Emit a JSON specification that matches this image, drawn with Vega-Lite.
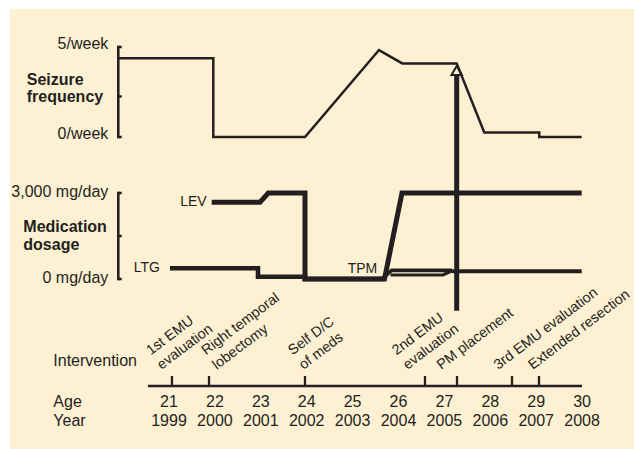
{
  "$schema": "https://vega.github.io/schema/vega-lite/v6.json",
  "width": 624,
  "height": 440,
  "autosize": {"type": "none"},
  "padding": {"left": 10, "top": 9, "right": 0, "bottom": 0},
  "background": "white",
  "config": {
    "view": {"fill": "#FEF0D2", "stroke": null},
    "text": {"font": "Liberation Sans", "fill": "#231F20", "fontSize": 16},
    "rule": {"stroke": "#231F20"},
    "line": {"stroke": "#231F20"}
  },
  "resolve": {"scale": {"y": "independent"}},
  "datasets": {
    "seizure": [
      {"i": 0, "year": 1997.895, "freq": 4.37},
      {"i": 1, "year": 1999.965, "freq": 4.37},
      {"i": 2, "year": 1999.965, "freq": 0},
      {"i": 3, "year": 2001.963, "freq": 0},
      {"i": 4, "year": 2003.575, "freq": 4.83},
      {"i": 5, "year": 2004.083, "freq": 4.09},
      {"i": 6, "year": 2005.268, "freq": 4.09},
      {"i": 7, "year": 2005.869, "freq": 0.25},
      {"i": 8, "year": 2007.067, "freq": 0.25},
      {"i": 9, "year": 2007.067, "freq": 0},
      {"i": 10, "year": 2007.991, "freq": 0}
    ],
    "dose": [
      {"line": "LEV", "i": 0, "year": 1999.93, "dose": 2680},
      {"line": "LEV", "i": 1, "year": 2000.983, "dose": 2680},
      {"line": "LEV", "i": 2, "year": 2001.163, "dose": 3000},
      {"line": "LEV", "i": 3, "year": 2001.963, "dose": 3000},
      {"line": "LEV", "i": 4, "year": 2001.963, "dose": 0},
      {"line": "LEV", "i": 5, "year": 2003.695, "dose": 0},
      {"line": "LEV", "i": 6, "year": 2004.076, "dose": 3000},
      {"line": "LEV", "i": 7, "year": 2007.991, "dose": 3000},
      {"line": "LTG", "i": 0, "year": 1999.022, "dose": 373},
      {"line": "LTG", "i": 1, "year": 2000.939, "dose": 373},
      {"line": "LTG", "i": 2, "year": 2000.939, "dose": 80},
      {"line": "LTG", "i": 3, "year": 2001.963, "dose": 80},
      {"line": "LTG", "i": 4, "year": 2001.963, "dose": 0},
      {"line": "LTG", "i": 5, "year": 2003.67, "dose": 0},
      {"line": "TPM", "i": 0, "year": 2003.634, "dose": 0},
      {"line": "TPM", "i": 1, "year": 2003.852, "dose": 300},
      {"line": "TPM", "i": 2, "year": 2005.166, "dose": 300},
      {"line": "TPMb", "i": 0, "year": 2003.826, "dose": 140},
      {"line": "TPMb", "i": 1, "year": 2004.969, "dose": 140},
      {"line": "TPMb", "i": 2, "year": 2005.166, "dose": 290},
      {"line": "LTG2", "i": 0, "year": 2005.166, "dose": 270},
      {"line": "LTG2", "i": 1, "year": 2007.991, "dose": 270}
    ],
    "events": [
      {"event": "1st EMU\nevaluation", "tick": 1999.065, "labelAt": 1998.601},
      {"event": "Right temporal\nlobectomy", "tick": 1999.872, "labelAt": 1999.806},
      {"event": "Self D/C\nof meds", "tick": 2001.963, "labelAt": 2001.693},
      {"event": "2nd EMU\nevaluation", "tick": 2004.577, "labelAt": 2003.959},
      {"event": "\nPM placement", "tick": 2005.275, "labelAt": 2004.695},
      {"event": "\n3rd EMU evaluation", "tick": 2006.473, "labelAt": 2005.937},
      {"event": "\nExtended resection", "tick": 2007.061, "labelAt": 2006.69}
    ],
    "years": [
      {"year": 1999, "age": 21}, {"year": 2000, "age": 22}, {"year": 2001, "age": 23},
      {"year": 2002, "age": 24}, {"year": 2003, "age": 25}, {"year": 2004, "age": 26},
      {"year": 2005, "age": 27}, {"year": 2006, "age": 28}, {"year": 2007, "age": 29},
      {"year": 2008, "age": 30}
    ],
    "rows": [
      {"label": "Intervention", "v": 1.265},
      {"label": "Age", "v": -0.785},
      {"label": "Year", "v": -1.75}
    ],
    "szTicks": [{"v": 0, "t": "0/week"}, {"v": 2.25, "t": ""}, {"v": 5, "t": "5/week"}],
    "dsTicks": [{"v": 0, "t": "0 mg/day"}, {"v": 1500, "t": ""}, {"v": 3000, "t": "3,000 mg/day"}],
    "drugLabels": [
      {"drug": "LEV", "year": 1999.821, "dose": 2669},
      {"drug": "LTG", "year": 1998.804, "dose": 401},
      {"drug": "TPM", "year": 2003.538, "dose": 349}
    ],
    "one": [{}]
  },
  "layer": [
    {
      "data": {"name": "one"},
      "mark": {"type": "rule", "strokeWidth": 5},
      "encoding": {
        "x": {"datum": 2005.268, "type": "quantitative", "scale": {"domain": [1995.536, 2009.131], "nice": false, "zero": false}, "axis": null},
        "y": {"datum": 3.765, "type": "quantitative", "scale": {"domain": [-3.15, 18.85], "nice": false, "zero": false}, "axis": null},
        "y2": {"datum": 15.55}
      }
    },
    {
      "data": {"name": "one"},
      "mark": {"type": "point", "shape": "triangle-up", "filled": true, "fill": "#FEF0D2", "stroke": "#231F20", "strokeWidth": 2, "size": 110, "opacity": 1},
      "encoding": {
        "x": {"datum": 2005.268, "type": "quantitative", "scale": {"domain": [1995.536, 2009.131], "nice": false, "zero": false}, "axis": null},
        "y": {"datum": 15.775, "type": "quantitative", "scale": {"domain": [-3.15, 18.85], "nice": false, "zero": false}, "axis": null}
      }
    },
    {
      "data": {"name": "seizure"},
      "mark": {"type": "line", "strokeWidth": 2.5, "strokeJoin": "miter"},
      "encoding": {
        "x": {"field": "year", "type": "quantitative", "scale": {"domain": [1995.536, 2009.131], "nice": false, "zero": false}, "axis": null},
        "y": {"field": "freq", "type": "quantitative", "scale": {"domain": [-17.3333, 7.1111], "nice": false, "zero": false}, "axis": null},
        "order": {"field": "i", "type": "quantitative"}
      }
    },
    {
      "data": {"name": "one"},
      "mark": {"type": "rule", "strokeWidth": 2.6, "strokeCap": "square"},
      "encoding": {
        "x": {"datum": 1997.895, "type": "quantitative", "scale": {"domain": [1995.536, 2009.131], "nice": false, "zero": false}, "axis": null},
        "y": {"datum": 0, "type": "quantitative", "scale": {"domain": [-17.3333, 7.1111], "nice": false, "zero": false}, "axis": null},
        "y2": {"datum": 5}
      }
    },
    {
      "data": {"name": "szTicks"},
      "mark": {"type": "rule", "strokeWidth": 2.5},
      "encoding": {
        "x": {"datum": 1997.895, "type": "quantitative", "scale": {"domain": [1995.536, 2009.131], "nice": false, "zero": false}, "axis": null},
        "x2": {"datum": 1997.97},
        "y": {"field": "v", "type": "quantitative", "scale": {"domain": [-17.3333, 7.1111], "nice": false, "zero": false}, "axis": null}
      }
    },
    {
      "data": {"name": "szTicks"},
      "mark": {"type": "text", "align": "right", "baseline": "middle", "dy": -3},
      "encoding": {
        "x": {"datum": 1997.678, "type": "quantitative", "scale": {"domain": [1995.536, 2009.131], "nice": false, "zero": false}, "axis": null},
        "y": {"field": "v", "type": "quantitative", "scale": {"domain": [-17.3333, 7.1111], "nice": false, "zero": false}, "axis": null},
        "text": {"field": "t"}
      }
    },
    {
      "data": {"name": "one"},
      "mark": {"type": "text", "align": "left", "baseline": "alphabetic", "fontWeight": "bold", "lineBreak": "\n", "lineHeight": 16.7, "text": "Seizure\nfrequency"},
      "encoding": {
        "x": {"datum": 1995.9, "type": "quantitative", "scale": {"domain": [1995.536, 2009.131], "nice": false, "zero": false}, "axis": null},
        "y": {"datum": 2.889, "type": "quantitative", "scale": {"domain": [-17.3333, 7.1111], "nice": false, "zero": false}, "axis": null}
      }
    },
    {
      "data": {"name": "dose"},
      "mark": {"type": "line", "strokeJoin": "miter"},
      "encoding": {
        "x": {"field": "year", "type": "quantitative", "scale": {"domain": [1995.536, 2009.131], "nice": false, "zero": false}, "axis": null},
        "y": {"field": "dose", "type": "quantitative", "scale": {"domain": [-5930.23, 9418.6], "nice": false, "zero": false}, "axis": null},
        "strokeWidth": {"field": "line", "type": "ordinal", "scale": {"domain": ["LEV", "LTG", "LTG2", "TPM", "TPMb"], "range": [5, 3.2, 3.5, 1.5, 1.5]}, "legend": null},
        "order": {"field": "i", "type": "quantitative"}
      }
    },
    {
      "data": {"name": "one"},
      "mark": {"type": "rule", "strokeWidth": 2.6, "strokeCap": "square"},
      "encoding": {
        "x": {"datum": 1997.895, "type": "quantitative", "scale": {"domain": [1995.536, 2009.131], "nice": false, "zero": false}, "axis": null},
        "y": {"datum": 0, "type": "quantitative", "scale": {"domain": [-5930.23, 9418.6], "nice": false, "zero": false}, "axis": null},
        "y2": {"datum": 3000}
      }
    },
    {
      "data": {"name": "dsTicks"},
      "mark": {"type": "rule", "strokeWidth": 2.5},
      "encoding": {
        "x": {"datum": 1997.895, "type": "quantitative", "scale": {"domain": [1995.536, 2009.131], "nice": false, "zero": false}, "axis": null},
        "x2": {"datum": 1997.97},
        "y": {"field": "v", "type": "quantitative", "scale": {"domain": [-5930.23, 9418.6], "nice": false, "zero": false}, "axis": null}
      }
    },
    {
      "data": {"name": "dsTicks"},
      "mark": {"type": "text", "align": "right", "baseline": "middle", "dy": -1},
      "encoding": {
        "x": {"datum": 1997.678, "type": "quantitative", "scale": {"domain": [1995.536, 2009.131], "nice": false, "zero": false}, "axis": null},
        "y": {"field": "v", "type": "quantitative", "scale": {"domain": [-5930.23, 9418.6], "nice": false, "zero": false}, "axis": null},
        "text": {"field": "t"}
      }
    },
    {
      "data": {"name": "one"},
      "mark": {"type": "text", "align": "left", "baseline": "alphabetic", "fontWeight": "bold", "lineBreak": "\n", "lineHeight": 18.3, "text": "Medication\ndosage"},
      "encoding": {
        "x": {"datum": 1995.826, "type": "quantitative", "scale": {"domain": [1995.536, 2009.131], "nice": false, "zero": false}, "axis": null},
        "y": {"datum": 1650, "type": "quantitative", "scale": {"domain": [-5930.23, 9418.6], "nice": false, "zero": false}, "axis": null}
      }
    },
    {
      "data": {"name": "drugLabels"},
      "mark": {"type": "text", "align": "right", "baseline": "middle", "fontSize": 14},
      "encoding": {
        "x": {"field": "year", "type": "quantitative", "scale": {"domain": [1995.536, 2009.131], "nice": false, "zero": false}, "axis": null},
        "y": {"field": "dose", "type": "quantitative", "scale": {"domain": [-5930.23, 9418.6], "nice": false, "zero": false}, "axis": null},
        "text": {"field": "drug"}
      }
    },
    {
      "data": {"name": "one"},
      "mark": {"type": "rule", "strokeWidth": 2.3},
      "encoding": {
        "x": {"datum": 1998.5425, "type": "quantitative", "scale": {"domain": [1995.536, 2009.131], "nice": false, "zero": false}, "axis": null},
        "x2": {"datum": 2007.998},
        "y": {"datum": 0, "type": "quantitative", "scale": {"domain": [-3.15, 18.85], "nice": false, "zero": false}, "axis": null}
      }
    },
    {
      "data": {"name": "events"},
      "mark": {"type": "rule", "strokeWidth": 2.3},
      "encoding": {
        "x": {"field": "tick", "type": "quantitative", "scale": {"domain": [1995.536, 2009.131], "nice": false, "zero": false}, "axis": null},
        "y": {"datum": 0, "type": "quantitative", "scale": {"domain": [-3.15, 18.85], "nice": false, "zero": false}, "axis": null},
        "y2": {"datum": 0.5}
      }
    },
    {
      "data": {"name": "events"},
      "mark": {"type": "text", "align": "left", "baseline": "alphabetic", "angle": -37, "fontSize": 14.3, "lineBreak": "\n", "lineHeight": 18},
      "encoding": {
        "x": {"field": "labelAt", "type": "quantitative", "scale": {"domain": [1995.536, 2009.131], "nice": false, "zero": false}, "axis": null},
        "y": {"datum": 1.525, "type": "quantitative", "scale": {"domain": [-3.15, 18.85], "nice": false, "zero": false}, "axis": null},
        "text": {"field": "event"}
      }
    },
    {
      "data": {"name": "years"},
      "mark": {"type": "text", "align": "center", "baseline": "middle"},
      "encoding": {
        "x": {"field": "year", "type": "quantitative", "scale": {"domain": [1995.536, 2009.131], "nice": false, "zero": false}, "axis": null},
        "y": {"datum": -0.785, "type": "quantitative", "scale": {"domain": [-3.15, 18.85], "nice": false, "zero": false}, "axis": null},
        "text": {"field": "age", "type": "quantitative", "format": "d"}
      }
    },
    {
      "data": {"name": "years"},
      "mark": {"type": "text", "align": "center", "baseline": "middle"},
      "encoding": {
        "x": {"field": "year", "type": "quantitative", "scale": {"domain": [1995.536, 2009.131], "nice": false, "zero": false}, "axis": null},
        "y": {"datum": -1.75, "type": "quantitative", "scale": {"domain": [-3.15, 18.85], "nice": false, "zero": false}, "axis": null},
        "text": {"field": "year", "type": "quantitative", "format": "d"}
      }
    },
    {
      "data": {"name": "rows"},
      "mark": {"type": "text", "align": "left", "baseline": "middle"},
      "encoding": {
        "x": {"datum": 1996.48, "type": "quantitative", "scale": {"domain": [1995.536, 2009.131], "nice": false, "zero": false}, "axis": null},
        "y": {"field": "v", "type": "quantitative", "scale": {"domain": [-3.15, 18.85], "nice": false, "zero": false}, "axis": null},
        "text": {"field": "label"}
      }
    }
  ]
}
